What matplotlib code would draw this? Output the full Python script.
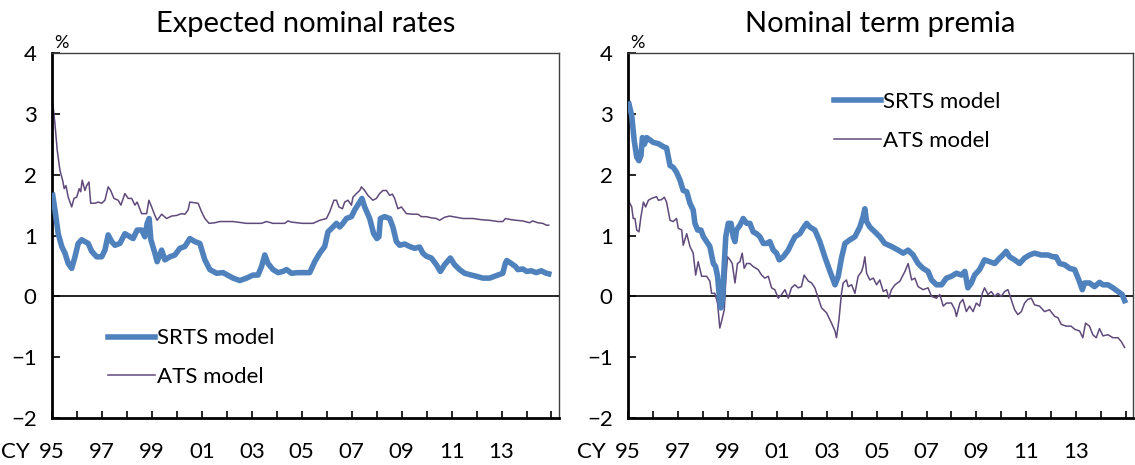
"""
Two-panel comparison of the SRTS and ATS term-structure models:
expected nominal rates (left) and nominal term premia (right), in %.
"""

import matplotlib
matplotlib.use("Agg")
import matplotlib.pyplot as plt

plt.rcParams["font.family"] = ["Lato", "DejaVu Sans"]

# =========================================================================
# Data (decimal calendar years, percent)
# =========================================================================

exp_srts_t = [1995.03, 1995.12, 1995.25, 1995.39, 1995.52, 1995.65, 1995.79, 1995.92,
              1996.05, 1996.19, 1996.32, 1996.45, 1996.59, 1996.79, 1996.99, 1997.12,
              1997.25, 1997.39, 1997.52, 1997.72, 1997.92, 1998.12, 1998.25, 1998.41,
              1998.59, 1998.72, 1998.81, 1998.89, 1998.96, 1999.12, 1999.21, 1999.39,
              1999.52, 1999.72, 1999.92, 2000.12, 2000.32, 2000.52, 2000.72, 2000.92,
              2001.12, 2001.32, 2001.59, 2001.85, 2002.25, 2002.52, 2002.79, 2003.05,
              2003.25, 2003.39, 2003.52, 2003.65, 2003.85, 2004.05, 2004.25, 2004.39,
              2004.59, 2004.85, 2005.12, 2005.32, 2005.52, 2005.72, 2005.92, 2006.05,
              2006.25, 2006.39, 2006.52, 2006.65, 2006.79, 2006.99, 2007.12, 2007.32,
              2007.41, 2007.52, 2007.72, 2007.88, 2008.01, 2008.09, 2008.15, 2008.32,
              2008.52, 2008.65, 2008.79, 2008.92, 2009.12, 2009.32, 2009.52, 2009.72,
              2009.85, 2009.99, 2010.19, 2010.39, 2010.55, 2010.72, 2010.95, 2011.12,
              2011.32, 2011.52, 2011.79, 2011.99, 2012.25, 2012.52, 2012.79, 2013.05,
              2013.15, 2013.21, 2013.39, 2013.56, 2013.65, 2013.85, 2014.01, 2014.19,
              2014.39, 2014.59, 2014.79, 2014.89]
exp_srts_v = [1.66, 1.42, 1.03, 0.82, 0.71, 0.54, 0.46, 0.65,
              0.87, 0.93, 0.90, 0.87, 0.74, 0.65, 0.65, 0.76,
              1.01, 0.90, 0.84, 0.87, 1.03, 0.98, 0.95, 1.09,
              1.09, 0.98, 1.20, 1.28, 0.93, 0.71, 0.57, 0.76,
              0.60, 0.65, 0.68, 0.79, 0.82, 0.95, 0.90, 0.87,
              0.60, 0.44, 0.38, 0.39, 0.30, 0.26, 0.30, 0.35,
              0.35, 0.49, 0.68, 0.54, 0.44, 0.39, 0.41, 0.44,
              0.38, 0.39, 0.39, 0.39, 0.57, 0.71, 0.82, 1.06,
              1.14, 1.20, 1.14, 1.20, 1.28, 1.31, 1.42, 1.55,
              1.61, 1.47, 1.28, 1.03, 0.95, 0.98, 1.28, 1.31,
              1.28, 1.14, 0.90, 0.84, 0.86, 0.82, 0.79, 0.81,
              0.71, 0.66, 0.63, 0.52, 0.41, 0.52, 0.63, 0.52,
              0.44, 0.38, 0.35, 0.33, 0.30, 0.30, 0.34, 0.38,
              0.54, 0.59, 0.54, 0.49, 0.44, 0.45, 0.41, 0.42,
              0.39, 0.42, 0.38, 0.37]

exp_ats_t = [1995.03, 1995.12, 1995.21, 1995.32, 1995.43, 1995.49, 1995.56, 1995.65,
             1995.79, 1995.88, 1995.99, 1996.09, 1996.15, 1996.21, 1996.32, 1996.39,
             1996.48, 1996.55, 1996.72, 1996.85, 1996.99, 1997.12, 1997.25, 1997.35,
             1997.48, 1997.65, 1997.76, 1997.92, 1998.05, 1998.19, 1998.32, 1998.41,
             1998.59, 1998.79, 1998.88, 1998.99, 1999.12, 1999.21, 1999.39, 1999.59,
             1999.79, 1999.99, 2000.19, 2000.32, 2000.45, 2000.52, 2000.68, 2000.85,
             2000.99, 2001.12, 2001.29, 2001.52, 2001.72, 2002.25, 2002.79, 2003.39,
             2003.59, 2003.85, 2004.32, 2004.45, 2004.59, 2005.05, 2005.45, 2005.72,
             2005.99, 2006.12, 2006.29, 2006.39, 2006.49, 2006.63, 2006.72, 2006.85,
             2006.99, 2007.05, 2007.19, 2007.32, 2007.39, 2007.52, 2007.65, 2007.85,
             2007.99, 2008.12, 2008.25, 2008.39, 2008.52, 2008.63, 2008.72, 2008.85,
             2008.99, 2009.19, 2009.45, 2009.65, 2009.79, 2009.99, 2010.19, 2010.39,
             2010.52, 2010.72, 2010.92, 2011.19, 2011.45, 2011.85, 2012.19, 2012.52,
             2012.85, 2013.05, 2013.16, 2013.39, 2013.59, 2013.85, 2014.12, 2014.25,
             2014.45, 2014.65, 2014.79, 2014.89]
exp_ats_v = [3.19, 2.83, 2.40, 2.07, 1.90, 1.77, 1.82, 1.63,
             1.47, 1.61, 1.63, 1.77, 1.72, 1.91, 1.74, 1.82,
             1.88, 1.53, 1.53, 1.55, 1.53, 1.58, 1.80, 1.74,
             1.61, 1.58, 1.50, 1.69, 1.61, 1.61, 1.50, 1.55,
             1.36, 1.36, 1.58, 1.47, 1.33, 1.25, 1.35, 1.28,
             1.32, 1.33, 1.36, 1.35, 1.42, 1.55, 1.54, 1.53,
             1.39, 1.28, 1.20, 1.21, 1.23, 1.23, 1.20, 1.20,
             1.23, 1.20, 1.20, 1.24, 1.22, 1.20, 1.20, 1.25,
             1.28, 1.39, 1.58, 1.58, 1.47, 1.44, 1.55, 1.58,
             1.50, 1.63, 1.69, 1.74, 1.80, 1.74, 1.66, 1.58,
             1.61, 1.69, 1.74, 1.74, 1.66, 1.68, 1.61, 1.44,
             1.47, 1.36, 1.35, 1.35, 1.31, 1.31, 1.29, 1.28,
             1.25, 1.30, 1.32, 1.30, 1.28, 1.28, 1.26, 1.25,
             1.23, 1.23, 1.28, 1.26, 1.25, 1.24, 1.21, 1.24,
             1.21, 1.20, 1.17, 1.17]

tp_srts_t = [1995.04, 1995.15, 1995.25, 1995.35, 1995.44, 1995.52, 1995.58, 1995.66,
             1995.75, 1995.88, 1996.02, 1996.22, 1996.42, 1996.55, 1996.69, 1996.82,
             1996.95, 1997.09, 1997.22, 1997.36, 1997.49, 1997.62, 1997.69, 1997.80,
             1997.93, 1998.03, 1998.16, 1998.29, 1998.43, 1998.52, 1998.60, 1998.67,
             1998.73, 1998.80, 1998.87, 1998.93, 1999.03, 1999.14, 1999.23, 1999.30,
             1999.36, 1999.50, 1999.63, 1999.77, 1999.90, 2000.03, 2000.17, 2000.30,
             2000.44, 2000.57, 2000.70, 2000.84, 2000.97, 2001.08, 2001.24, 2001.44,
             2001.57, 2001.71, 2001.91, 2002.04, 2002.18, 2002.31, 2002.51, 2002.71,
             2002.91, 2003.12, 2003.32, 2003.45, 2003.58, 2003.72, 2003.92, 2004.12,
             2004.32, 2004.45, 2004.52, 2004.59, 2004.72, 2004.92, 2005.12, 2005.32,
             2005.59, 2005.86, 2006.06, 2006.26, 2006.46, 2006.66, 2006.86, 2007.06,
             2007.20, 2007.40, 2007.60, 2007.80, 2008.00, 2008.20, 2008.40, 2008.54,
             2008.66, 2008.80, 2008.93, 2009.13, 2009.33, 2009.53, 2009.74, 2009.94,
             2010.07, 2010.20, 2010.34, 2010.54, 2010.74, 2010.94, 2011.14, 2011.34,
             2011.61, 2011.88, 2012.08, 2012.21, 2012.35, 2012.55, 2012.75, 2012.95,
             2013.12, 2013.26, 2013.35, 2013.55, 2013.75, 2013.95, 2014.09, 2014.29,
             2014.49, 2014.69, 2014.86, 2014.96]
tp_srts_v = [3.16, 2.97, 2.56, 2.29, 2.23, 2.31, 2.61, 2.50,
             2.61, 2.57, 2.53, 2.51, 2.46, 2.44, 2.15, 2.12,
             2.04, 1.91, 1.74, 1.72, 1.53, 1.42, 1.20, 1.09,
             1.09, 0.98, 0.90, 0.82, 0.54, 0.49, 0.33, 0.00,
             -0.19, -0.05, 0.54, 0.98, 1.20, 1.20, 0.98, 0.90,
             1.09, 1.17, 1.28, 1.20, 1.20, 1.06, 1.03, 0.98,
             0.87, 0.87, 0.90, 0.76, 0.71, 0.60, 0.65, 0.76,
             0.87, 0.98, 1.03, 1.12, 1.20, 1.14, 1.09, 0.90,
             0.65, 0.41, 0.19, 0.33, 0.63, 0.87, 0.93, 0.98,
             1.14, 1.31, 1.44, 1.23, 1.14, 1.06, 0.98, 0.87,
             0.82, 0.76, 0.71, 0.76, 0.68, 0.54, 0.46, 0.41,
             0.27, 0.19, 0.19, 0.30, 0.33, 0.38, 0.35, 0.41,
             0.14, 0.22, 0.35, 0.44, 0.60, 0.57, 0.54, 0.63,
             0.68, 0.74, 0.65, 0.60, 0.54, 0.63, 0.68, 0.71,
             0.68, 0.68, 0.65, 0.65, 0.54, 0.52, 0.46, 0.44,
             0.27, 0.11, 0.22, 0.22, 0.16, 0.23, 0.19, 0.19,
             0.14, 0.08, 0.03, -0.07]

tp_ats_t = [1995.01, 1995.15, 1995.21, 1995.28, 1995.35, 1995.44, 1995.52, 1995.62,
            1995.71, 1995.82, 1995.95, 1996.15, 1996.22, 1996.35, 1996.46, 1996.55,
            1996.69, 1996.82, 1996.95, 1997.02, 1997.16, 1997.22, 1997.36, 1997.49,
            1997.62, 1997.72, 1997.82, 1997.96, 1998.16, 1998.29, 1998.36, 1998.49,
            1998.60, 1998.69, 1998.76, 1998.87, 1998.94, 1999.00, 1999.10, 1999.19,
            1999.30, 1999.40, 1999.50, 1999.59, 1999.67, 1999.77, 1999.90, 2000.03,
            2000.23, 2000.37, 2000.50, 2000.64, 2000.77, 2000.90, 2001.04, 2001.17,
            2001.31, 2001.44, 2001.57, 2001.71, 2001.84, 2001.97, 2002.08, 2002.25,
            2002.38, 2002.51, 2002.65, 2002.78, 2002.98, 2003.18, 2003.32, 2003.38,
            2003.48, 2003.58, 2003.65, 2003.78, 2003.85, 2003.99, 2004.12, 2004.25,
            2004.39, 2004.45, 2004.52, 2004.59, 2004.72, 2004.86, 2004.99, 2005.12,
            2005.26, 2005.39, 2005.48, 2005.59, 2005.73, 2005.93, 2006.13, 2006.26,
            2006.40, 2006.53, 2006.66, 2006.86, 2007.06, 2007.20, 2007.40, 2007.53,
            2007.67, 2007.80, 2008.00, 2008.14, 2008.20, 2008.34, 2008.46, 2008.60,
            2008.73, 2008.87, 2009.00, 2009.13, 2009.24, 2009.33, 2009.47, 2009.60,
            2009.74, 2009.87, 2010.00, 2010.14, 2010.27, 2010.40, 2010.54, 2010.67,
            2010.81, 2010.94, 2011.07, 2011.21, 2011.34, 2011.54, 2011.74, 2011.94,
            2012.15, 2012.28, 2012.41, 2012.61, 2012.81, 2012.95, 2013.15, 2013.28,
            2013.39, 2013.55, 2013.68, 2013.82, 2013.95, 2014.09, 2014.29, 2014.49,
            2014.69, 2014.82, 2014.96]
tp_ats_v = [1.58, 1.47, 1.28, 1.28, 1.09, 1.06, 1.31, 1.55,
            1.47, 1.58, 1.61, 1.64, 1.58, 1.59, 1.63, 1.55,
            1.25, 1.23, 1.28, 1.12, 1.09, 0.84, 1.03, 0.82,
            0.71, 0.35, 0.57, 0.33, 0.33, 0.25, 0.05, 0.05,
            -0.11, -0.52, -0.41, -0.22, 0.33, 0.65, 0.60, 0.54,
            0.22, 0.54, 0.57, 0.71, 0.46, 0.54, 0.54, 0.49,
            0.44, 0.35, 0.30, 0.33, 0.14, 0.11, -0.03, 0.03,
            0.11, -0.03, 0.14, 0.19, 0.14, 0.16, 0.35, 0.25,
            0.22, 0.14, -0.03, -0.19, -0.27, -0.44, -0.57, -0.68,
            -0.38, 0.05, 0.22, 0.27, 0.16, 0.19, 0.05, 0.33,
            0.41, 0.49, 0.65, 0.38, 0.27, 0.30, 0.19, 0.27,
            0.08, 0.11, -0.03, 0.11, 0.19, 0.25, 0.41, 0.54,
            0.27, 0.30, 0.16, 0.11, 0.14, 0.00, -0.03, 0.03,
            -0.16, -0.11, -0.11, -0.22, -0.33, -0.11, -0.05, -0.25,
            -0.16, -0.25, -0.11, -0.16, 0.05, 0.14, 0.03, 0.08,
            0.00, 0.05, 0.00, 0.08, 0.11, -0.05, -0.22, -0.30,
            -0.25, -0.11, -0.05, -0.03, -0.14, -0.16, -0.25, -0.22,
            -0.33, -0.35, -0.46, -0.49, -0.49, -0.54, -0.57, -0.68,
            -0.44, -0.49, -0.63, -0.68, -0.53, -0.65, -0.63, -0.68,
            -0.68, -0.74, -0.84]

year_ticks = list(range(1995, 2016))
year_labels = ["95", "", "97", "", "99", "", "01", "", "03", "", "05", "",
               "07", "", "09", "", "11", "", "13", "", ""]
y_ticks = [-2, -1, 0, 1, 2, 3, 4]

SRTS_COLOR = "#4F81BD"
ATS_COLOR = "#5F4A7B"
FS = 16


# =========================================================================
# Panel helper
# =========================================================================


def draw_panel(ax, title, srts_t, srts_v, ats_t, ats_v, legend_anchor):
    """One panel: thick SRTS line, thin ATS line, zero line, Excel-ish frame."""
    ax.axhline(0, color="black", lw=1.2, zorder=1)
    ax.plot(srts_t, srts_v, color=SRTS_COLOR, lw=4.0, solid_joinstyle="round",
            label="SRTS model", zorder=3)
    ax.plot(ats_t, ats_v, color=ATS_COLOR, lw=1.1, label="ATS model", zorder=2)

    ax.set_xlim(1995, 2015.3)
    ax.set_ylim(-2, 4)
    ax.set_yticks(y_ticks)
    ax.set_xticks(year_ticks)
    ax.set_xticklabels(year_labels)
    ax.tick_params(axis="y", direction="in", length=6, width=1.2, pad=11,
                   labelsize=FS)
    ax.tick_params(axis="x", direction="in", length=5, width=1.2, pad=17,
                   labelsize=FS)

    for side in ("left", "bottom"):
        ax.spines[side].set_linewidth(2.0)
        ax.spines[side].set_color("black")
    for side in ("top", "right"):
        ax.spines[side].set_linewidth(1.0)
        ax.spines[side].set_color("#404040")

    ax.set_title(title, fontsize=21, pad=15)
    ax.text(0.004, 1.006, "%", transform=ax.transAxes, fontsize=13,
            ha="left", va="bottom")
    # calendar-year marker sits just left of the first year label
    ax.annotate("CY", xy=(0, 0), xycoords="axes fraction", xytext=(-16, -17),
                textcoords="offset points", ha="right", va="top", fontsize=FS)

    ax.legend(loc="center left", bbox_to_anchor=legend_anchor, frameon=False,
              fontsize=FS, handlelength=2.1, handletextpad=0.1,
              labelspacing=0.85, borderaxespad=0)


fig = plt.figure(figsize=(11.35, 4.65), dpi=100)
ax_l = fig.add_axes([0.0458, 0.101, 0.4467, 0.785])
ax_r = fig.add_axes([0.5533, 0.101, 0.4450, 0.785])

draw_panel(ax_l, "Expected nominal rates", exp_srts_t, exp_srts_v,
           exp_ats_t, exp_ats_v, (0.093, 0.165))
draw_panel(ax_r, "Nominal term premia", tp_srts_t, tp_srts_v,
           tp_ats_t, tp_ats_v, (0.390, 0.812))

fig.savefig("out.png", dpi=100)
